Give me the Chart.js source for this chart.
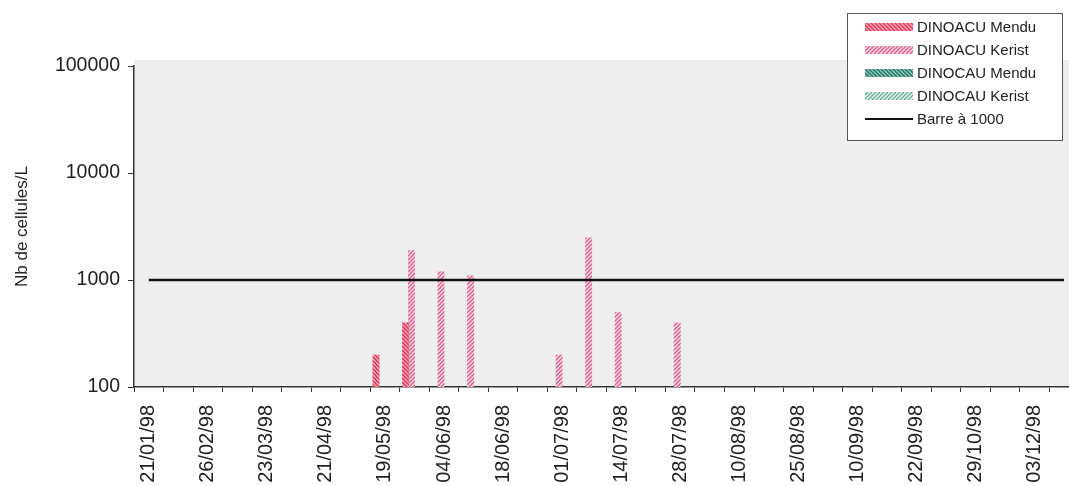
<!DOCTYPE html>
<html>
<head>
<meta charset="utf-8">
<script src="https://cdn.jsdelivr.net/npm/chart.js@4.4.1/dist/chart.umd.min.js"></script>
<style>
  html, body { margin: 0; padding: 0; background: #fff; overflow: hidden; }
  #wrap { position: relative; width: 1101px; height: 486px; }
</style>
</head>
<body>
<div id="wrap"><canvas id="chart"></canvas></div>
<script>
// sample dates (only every other one is labelled on the axis)
const dates = [
  '21/01/98', '', '26/02/98', '', '23/03/98', '', '21/04/98', '',
  '19/05/98', '', '04/06/98', '', '18/06/98', '', '01/07/98', '',
  '14/07/98', '', '28/07/98', '', '10/08/98', '', '25/08/98', '',
  '10/09/98', '', '22/09/98', '', '29/10/98', '', '03/12/98', ''
];

const dinoacuMendu = [
  null, null, null, null, null, null, null, null,
  200, 400, null, null, null, null, null, null,
  null, null, null, null, null, null, null, null,
  null, null, null, null, null, null, null, null
];
const dinoacuKerist = [
  null, null, null, null, null, null, null, null,
  null, 1900, 1200, 1100, null, null, 200, 2500,
  500, null, 400, null, null, null, null, null,
  null, null, null, null, null, null, null, null
];
const dinocauMendu = dates.map(() => null);
const dinocauKerist = dates.map(() => null);
const barre = dates.map(() => 1000);

const yTicks = [100, 1000, 10000, 100000];

function hatch(bg, fg, dir, size, lw) {
  const c = document.createElement('canvas');
  c.width = size;
  c.height = size;
  const g = c.getContext('2d');
  g.fillStyle = bg;
  g.fillRect(0, 0, size, size);
  g.strokeStyle = fg;
  g.lineWidth = lw;
  g.beginPath();
  if (dir === '/') {
    g.moveTo(-1, size + 1); g.lineTo(size + 1, -1);
    g.moveTo(-1, 1); g.lineTo(1, -1);
    g.moveTo(size - 1, size + 1); g.lineTo(size + 1, size - 1);
  } else {
    g.moveTo(-1, -1); g.lineTo(size + 1, size + 1);
    g.moveTo(size - 1, -1); g.lineTo(size + 1, 1);
    g.moveTo(-1, size - 1); g.lineTo(1, size + 1);
  }
  g.stroke();
  return g.createPattern(c, 'repeat');
}

const fills = {
  acuMendu: hatch('#f6b3c2', '#e0405f', '\\', 4, 1.6),
  acuKerist: hatch('#f9dbe4', '#e0608a', '/', 4, 1.4),
  cauMendu: hatch('#9fd0c4', '#2b7f6c', '\\', 4, 1.6),
  cauKerist: hatch('#e3f1ed', '#6cae9e', '/', 4, 1.3)
};

const plotBackground = {
  id: 'plotBackground',
  beforeDraw(chart) {
    const { ctx, chartArea: a } = chart;
    ctx.save();
    ctx.fillStyle = '#eeeeee';
    ctx.fillRect(a.left, a.top - 6, a.right - a.left, a.bottom - a.top + 6);
    ctx.restore();
  }
};

const boxLegend = {
  id: 'boxLegend',
  afterDraw(chart) {
    const ctx = chart.ctx;
    const x = 847, y = 13, w = 215, h = 127;
    ctx.save();
    ctx.fillStyle = '#ffffff';
    ctx.fillRect(x, y, w, h);
    ctx.strokeStyle = '#555';
    ctx.lineWidth = 1;
    ctx.strokeRect(x + 0.5, y + 0.5, w, h);
    ctx.font = '15px "Liberation Sans", Arial, sans-serif';
    ctx.textBaseline = 'middle';
    chart.data.datasets.forEach((ds, i) => {
      const cy = 27 + i * 23;
      if (ds.type === 'line') {
        ctx.strokeStyle = ds.borderColor;
        ctx.lineWidth = 2;
        ctx.beginPath();
        ctx.moveTo(865, cy);
        ctx.lineTo(913, cy);
        ctx.stroke();
      } else {
        ctx.fillStyle = ds.backgroundColor;
        ctx.fillRect(865, cy - 4, 48, 8);
      }
      ctx.fillStyle = '#222';
      ctx.fillText(ds.label, 917, cy + 1);
    });
    ctx.restore();
  }
};

new Chart(document.getElementById('chart'), {
  type: 'bar',
  data: {
    labels: dates,
    datasets: [
      { label: 'DINOACU Mendu', data: dinoacuMendu, backgroundColor: fills.acuMendu, order: 1 },
      { label: 'DINOACU Kerist', data: dinoacuKerist, backgroundColor: fills.acuKerist, order: 1 },
      { label: 'DINOCAU Mendu', data: dinocauMendu, backgroundColor: fills.cauMendu, order: 1 },
      { label: 'DINOCAU Kerist', data: dinocauKerist, backgroundColor: fills.cauKerist, order: 1 },
      {
        type: 'line', label: 'Barre à 1000', data: barre,
        borderColor: '#111', borderWidth: 2.5, pointRadius: 0, order: 0
      }
    ]
  },
  options: {
    responsive: true,
    maintainAspectRatio: false,
    animation: false,
    categoryPercentage: 0.81,
    barPercentage: 1.15,
    layout: { padding: { top: 66, right: 0, left: 0, bottom: 0 } },
    plugins: {
      legend: { display: false },
      tooltip: { enabled: false }
    },
    scales: {
      x: {
        grid: { drawOnChartArea: false, offset: true, tickLength: 5, color: '#333' },
        border: { color: '#333', width: 1.5 },
        ticks: {
          autoSkip: false,
          minRotation: 90,
          maxRotation: 90,
          padding: 13,
          color: '#222',
          font: { family: '"Liberation Sans", Arial, sans-serif', size: 20 }
        },
        afterFit: s => { s.height = 99; }
      },
      y: {
        type: 'logarithmic',
        min: 100,
        max: 100000,
        afterBuildTicks: s => { s.ticks = yTicks.map(v => ({ value: v })); },
        grid: { drawOnChartArea: false, tickLength: 6, color: '#333' },
        border: { color: '#333', width: 1.5 },
        ticks: {
          padding: 8,
          color: '#222',
          font: { family: '"Liberation Sans", Arial, sans-serif', size: 19.5 },
          callback: v => String(v)
        },
        title: {
          display: true,
          text: 'Nb de cellules/L',
          color: '#222',
          padding: { top: 12, bottom: 0 },
          font: { family: '"Liberation Sans", Arial, sans-serif', size: 17 }
        },
        afterFit: s => { s.width = 134; }
      }
    }
  },
  plugins: [plotBackground, boxLegend]
});
</script>
</body>
</html>
